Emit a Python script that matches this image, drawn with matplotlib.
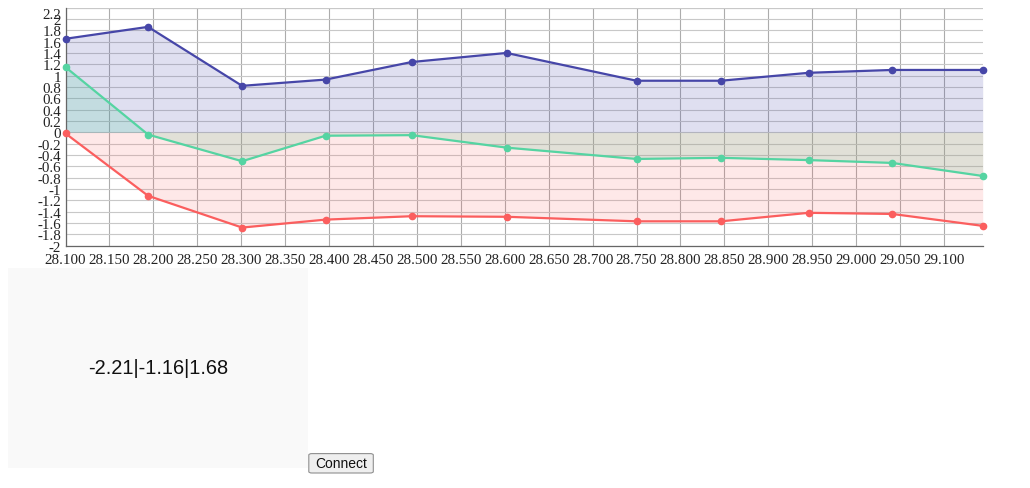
import matplotlib
matplotlib.use("Agg")
import matplotlib.pyplot as plt
from matplotlib.patches import FancyBboxPatch, Rectangle
import numpy as np

# ---- data ----
x_vals = [28.100, 28.194, 28.301, 28.396, 28.494, 28.602, 28.750, 28.846, 28.946, 29.041, 29.144]
blue_vals = [1.65, 1.86, 0.82, 0.93, 1.24, 1.40, 0.91, 0.91, 1.05, 1.10, 1.10]
green_vals = [1.15, -0.04, -0.51, -0.06, -0.05, -0.27, -0.47, -0.45, -0.49, -0.54, -0.77]
red_vals = [-0.02, -1.12, -1.68, -1.54, -1.48, -1.49, -1.57, -1.57, -1.42, -1.44, -1.65]
y_ticks = [2.2, 2.0, 1.8, 1.6, 1.4, 1.2, 1.0, 0.8, 0.6, 0.4, 0.2, 0.0, -0.2, -0.4, -0.6, -0.8,
           -1.0, -1.2, -1.4, -1.6, -1.8, -2.0]
y_tick_labels = ["2.2", "2", "1.8", "1.6", "1.4", "1.2", "1", "0.8", "0.6", "0.4", "0.2", "0",
                 "-0.2", "-0.4", "-0.6", "-0.8", "-1", "-1.2", "-1.4", "-1.6", "-1.8", "-2"]
x_ticks = [28.10, 28.15, 28.20, 28.25, 28.30, 28.35, 28.40, 28.45, 28.50, 28.55, 28.60,
           28.65, 28.70, 28.75, 28.80, 28.85, 28.90, 28.95, 29.00, 29.05, 29.10]
x_tick_labels = ["%.3f" % v for v in x_ticks]
readout_text = "-2.21|-1.16|1.68"
button_text = "Connect"

W, H = 1030, 489
fig = plt.figure(figsize=(W / 100, H / 100), dpi=100)


def fx(px):
    return px / W


def fy(py):
    return 1 - py / H


left, right, top, bottom = 65.5, 982.7, 8.6, 246.7
ax = fig.add_axes([fx(left), fy(bottom), fx(right) - fx(left), fy(top) - fy(bottom)])

blue = "#4646a8"
green = "#55d4a2"
red = "#fb5e5e"

ax.fill_between(x_vals, 0, blue_vals, color=blue, alpha=0.17, linewidth=0, zorder=1)
ax.fill_between(x_vals, 0, green_vals, color=green, alpha=0.2, linewidth=0, zorder=1)
ax.fill_between(x_vals, 0, red_vals, color=red, alpha=0.14, linewidth=0, zorder=1)
ax.plot(x_vals, blue_vals, color=blue, lw=1.6, marker="o", ms=4.5, zorder=3, clip_on=False)
ax.plot(x_vals, green_vals, color=green, lw=1.6, marker="o", ms=4.5, zorder=3, clip_on=False)
ax.plot(x_vals, red_vals, color=red, lw=1.6, marker="o", ms=4.5, zorder=3, clip_on=False)

ax.set_xlim(x_vals[0], x_vals[-1])
ax.set_ylim(-2.0, 2.2)
ax.set_yticks(y_ticks)
ax.set_yticklabels(y_tick_labels, fontfamily="Liberation Serif", fontsize=10.8)
ax.set_xticks(x_ticks)
ax.set_xticklabels(x_tick_labels, fontfamily="Liberation Serif", fontsize=10.8)
ax.tick_params(axis="y", length=0, pad=3, labelcolor="#222222")
ax.tick_params(axis="x", length=0, pad=5, labelcolor="#222222")
ax.grid(True, color="#c8c8c8", lw=0.8, zorder=0)
for g in ax.get_xgridlines():
    g.set_color("#acacac")
ax.set_axisbelow(True)
for s in ["top", "right"]:
    ax.spines[s].set_visible(False)
for s in ["left", "bottom"]:
    ax.spines[s].set_color("#666666")
    ax.spines[s].set_linewidth(0.9)

ax.axhline(2.2, color="#c8c8c8", lw=0.8, zorder=0)
ax.yaxis.get_major_ticks()[0].label1.set_va("top")

# readout box
fig.patches.append(Rectangle((fx(8), fy(468.7)), fx(308) - fx(8), fy(269.3) - fy(468.7),
                             transform=fig.transFigure, facecolor="#f9f9f9", edgecolor="none"))
fig.text(fx(158), fy(368.5), readout_text, ha="center", va="center",
         fontfamily="Liberation Sans", fontsize=14.4, color="#111111")

# button
fig.patches.append(FancyBboxPatch((fx(308.8), fy(474)), fx(373.3) - fx(308.8), fy(454.6) - fy(474),
                                  boxstyle="round,pad=0,rounding_size=0.003",
                                  transform=fig.transFigure, facecolor="#efefef",
                                  edgecolor="#8f8f8f", linewidth=0.8))
fig.text(fx(341), fy(464.5), button_text, ha="center", va="center",
         fontfamily="Liberation Sans", fontsize=10, color="#111111")

fig.savefig("out.png", dpi=100)
